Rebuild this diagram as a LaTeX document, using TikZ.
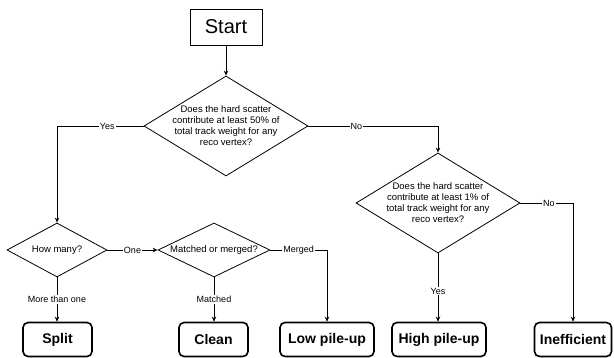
\documentclass[tikz,border=0pt]{standalone}
\usepackage{fontspec}
\setmainfont{Liberation Sans}
\usetikzlibrary{shapes.geometric,arrows.meta}

\begin{document}
\begin{tikzpicture}[x=1pt,y=-1pt,
  decision/.style={draw,diamond,line width=0.8pt,inner sep=0pt,align=center,font=\fontsize{9.5}{11}\selectfont},
  outcome/.style={draw,rounded corners=5pt,line width=1.6pt,minimum height=34pt,inner sep=0pt,font=\fontsize{14}{16}\bfseries\selectfont},
  lbl/.style={fill=white,inner sep=1pt,font=\fontsize{9}{10}\selectfont},
  flow/.style={line width=0.8pt,-{Stealth[length=5pt,width=4.5pt]}}]
\useasboundingbox (0,0) rectangle (614,358);
\node[draw,line width=0.8pt,minimum width=72pt,minimum height=36pt,font=\fontsize{20}{24}\selectfont] (start) at (226,27) {Start};
\node[decision,inner sep=-2pt,shape aspect=1.64,minimum width=164pt,minimum height=100pt] (q50) at (226,126) {Does the hard scatter\\contribute at least 50\% of\\total track weight for any\\reco vertex?};
\node[decision,inner sep=-2pt,shape aspect=1.64,minimum width=164pt,minimum height=100pt] (q1)  at (438,203) {Does the hard scatter\\contribute at least 1\% of\\total track weight for any\\reco vertex?};
\node[decision,shape aspect=1.85,minimum width=100pt,minimum height=54pt] (howmany) at (57,250)  {How many?};
\node[decision,shape aspect=2.07,minimum width=112pt,minimum height=54pt] (matched) at (214,250) {Matched or merged?};
\node[outcome,minimum width=69pt] (split)  at (57.5,339.5) {Split};
\node[outcome,minimum width=69pt] (clean)  at (213.5,339.5) {Clean};
\node[outcome,minimum width=94pt] (lowpu)  at (327,339.5) {Low pile-up};
\node[outcome,minimum width=94pt] (highpu) at (439,339.5) {High pile-up};
\node[outcome,minimum width=77pt] (ineff)  at (573,339.5) {Inefficient};
\draw[flow] (start) -- (q50);
\draw[flow] (q50.west) -| node[lbl,pos=0.21] {Yes} (howmany.north);
\draw[flow] (q50.east) -| node[lbl,pos=0.185] {No} (q1.north);
\draw[flow] (howmany.east) -- node[lbl] {One} (matched.west);
\draw[flow] (howmany.south) -- node[lbl] {More than one} (split.north -| howmany.south);
\draw[flow] (matched.south) -- node[lbl] {Matched} (clean.north -| matched.south);
\draw[flow] (matched.east) -| node[lbl,pos=0.25] {Merged} (lowpu.north);
\draw[flow] (q1.south) -- node[lbl,pos=0.55] {Yes} (highpu.north -| q1.south);
\draw[flow] (q1.east) -| node[lbl,pos=0.27] {No} (ineff.north);
\end{tikzpicture}
\end{document}
